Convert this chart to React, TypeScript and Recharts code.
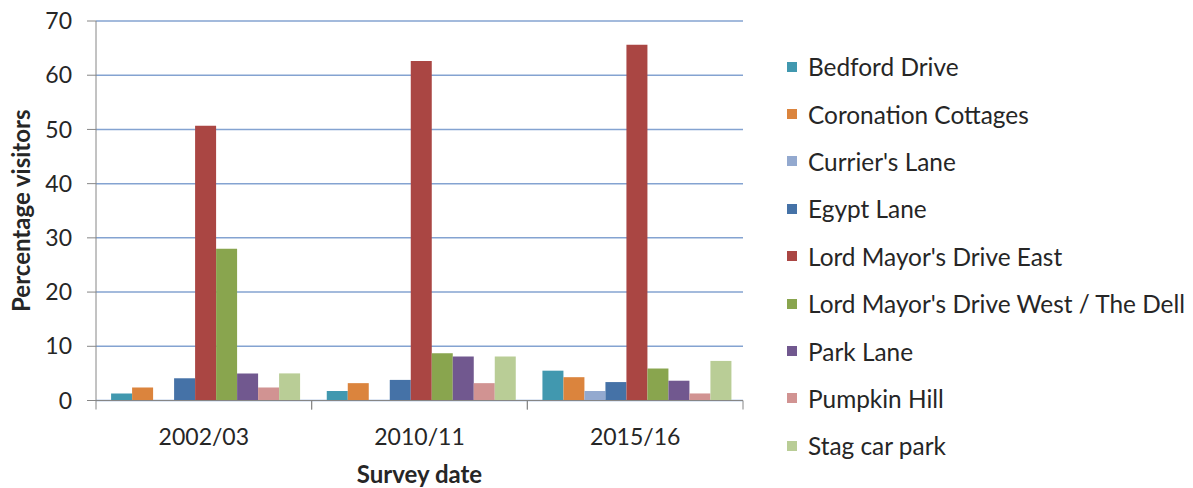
import React from 'react';
import { BarChart, Bar, XAxis, YAxis, CartesianGrid, Legend } from 'recharts';

const surveyDates = ['2002/03', '2010/11', '2015/16'];
const yTicks = [0, 10, 20, 30, 40, 50, 60, 70];

const bedfordDrive = [1.3, 1.75, 5.5];
const coronationCottages = [2.4, 3.2, 4.3];
const curriersLane = [0, 0, 1.75];
const egyptLane = [4.1, 3.8, 3.4];
const lordMayorsEast = [50.7, 62.6, 65.6];
const lordMayorsWest = [28.0, 8.7, 5.9];
const parkLane = [5.0, 8.1, 3.65];
const pumpkinHill = [2.4, 3.2, 1.3];
const stagCarPark = [5.0, 8.1, 7.3];

const series = [
  { key: 'bedford', name: 'Bedford Drive', values: bedfordDrive, color: '#4198AF' },
  { key: 'coronation', name: 'Coronation Cottages', values: coronationCottages, color: '#DB843D' },
  { key: 'currier', name: "Currier's Lane", values: curriersLane, color: '#93A9CF' },
  { key: 'egypt', name: 'Egypt Lane', values: egyptLane, color: '#4572A7' },
  { key: 'lmde', name: "Lord Mayor's Drive East", values: lordMayorsEast, color: '#AA4643' },
  { key: 'lmdw', name: "Lord Mayor's Drive West / The Dell", values: lordMayorsWest, color: '#89A54E' },
  { key: 'park', name: 'Park Lane', values: parkLane, color: '#71588F' },
  { key: 'pumpkin', name: 'Pumpkin Hill', values: pumpkinHill, color: '#D19392' },
  { key: 'stag', name: 'Stag car park', values: stagCarPark, color: '#B9CD96' },
];

const data = surveyDates.map((date, i) => {
  const row: Record<string, string | number> = { date };
  series.forEach((s) => {
    row[s.key] = s.values[i];
  });
  return row;
});

const FONT = 'Lato, "Open Sans", sans-serif';
const TEXT = '#262626';
const AXIS = '#868686';

const CategoryTick = (props: any) => {
  const { x, y, payload } = props;
  const half = payload.offset || 0;
  const top = y - 8;
  return (
    <g>
      <line x1={x - half} y1={top} x2={x - half} y2={top + 9} stroke={AXIS} strokeWidth={1} />
      <line x1={x + half} y1={top} x2={x + half} y2={top + 9} stroke={AXIS} strokeWidth={1} />
      <text x={x} y={top + 44.5} textAnchor="middle" fontFamily={FONT} fontSize={23} fill={TEXT}>
        {payload.value}
      </text>
    </g>
  );
};

const LegendList = (props: any) => {
  const { payload } = props;
  return (
    <div style={{ fontFamily: FONT, fontSize: 24.4, color: TEXT }}>
      {payload.map((item: any) => (
        <div key={item.value} style={{ height: 47.4, display: 'flex', alignItems: 'center', whiteSpace: 'nowrap' }}>
          <span style={{ width: 10, height: 10, background: item.color, display: 'inline-block', marginRight: 11 }} />
          <span>{item.value}</span>
        </div>
      ))}
    </div>
  );
};

export default function App() {
  return (
    <div style={{ position: 'absolute', left: 0, top: 0, background: '#fff' }}>
      <BarChart
        width={1193}
        height={488}
        data={data}
        margin={{ top: 21, right: 450, left: 0, bottom: 0 }}
        barCategoryGap="7%"
        barGap={0}
      >
        <CartesianGrid vertical={false} stroke="#84A3D1" strokeWidth={1.5} />
        <XAxis
          dataKey="date"
          height={87.5}
          axisLine={{ stroke: AXIS }}
          tickLine={false}
          tick={<CategoryTick />}
          interval={0}
          label={{
            value: 'Survey date',
            position: 'insideBottom',
            offset: 5,
            style: { fontFamily: FONT, fontSize: 24, fontWeight: 700, fill: TEXT },
          }}
        />
        <YAxis
          width={96}
          domain={[0, 70]}
          ticks={yTicks}
          interval={0}
          axisLine={{ stroke: AXIS }}
          tickLine={{ stroke: AXIS }}
          tickSize={9}
          tickMargin={15}
          tick={{ fontFamily: FONT, fontSize: 23, fill: TEXT }}
          label={{
            value: 'Percentage visitors',
            angle: -90,
            position: 'insideLeft',
            offset: 21,
            style: { textAnchor: 'middle', fontFamily: FONT, fontSize: 24, fontWeight: 700, fill: TEXT },
          }}
        />
        <Legend
          layout="vertical"
          align="center"
          verticalAlign="middle"
          wrapperStyle={{ left: 787, top: 43, width: 406 }}
          content={<LegendList />}
        />
        {series.map((s) => (
          <Bar key={s.key} dataKey={s.key} name={s.name} fill={s.color} isAnimationActive={false} />
        ))}
      </BarChart>
    </div>
  );
}
